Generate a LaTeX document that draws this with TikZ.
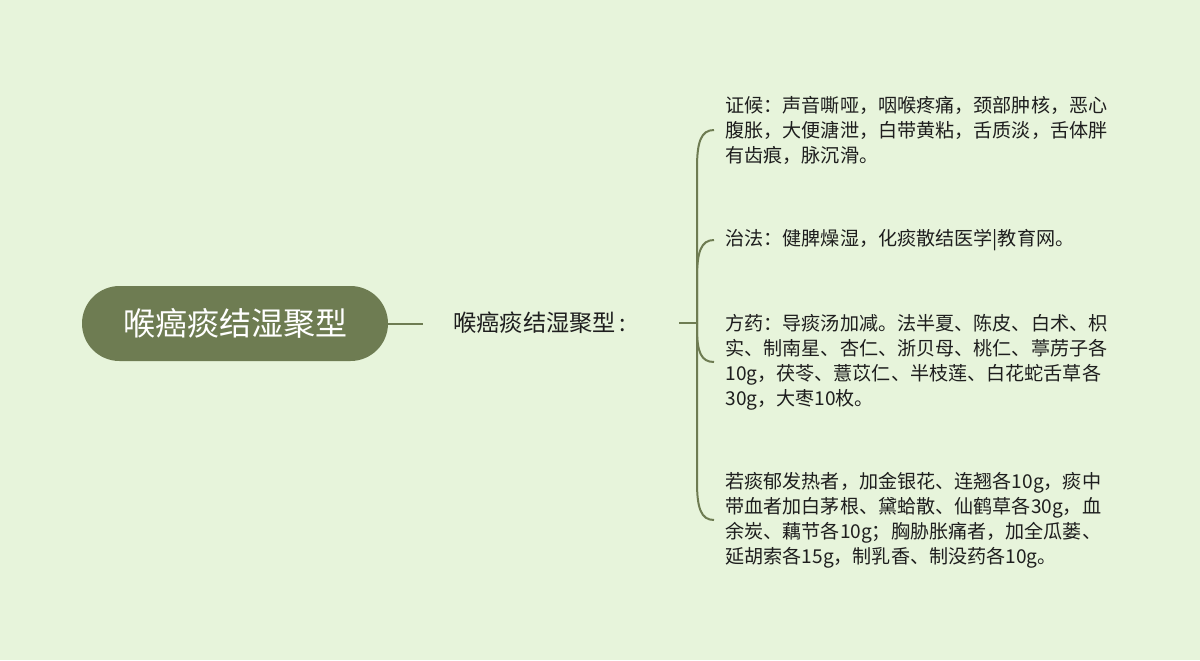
\documentclass[tikz,border=0pt]{standalone}
\usepackage{fontspec}
\setmainfont{Noto Sans CJK SC}
\definecolor{bg}{HTML}{E7F4DB}
\definecolor{olive}{HTML}{6E7C52}
\definecolor{txt}{HTML}{1E1E1E}
\tikzset{
  rootbox/.style={fill=olive, rounded corners=18.75pt, minimum width=153pt, minimum height=37.5pt, text=white, font=\fontsize{16pt}{19pt}\selectfont, inner sep=0pt},
  midbox/.style={anchor=west, inner sep=0pt, text=txt, font=\fontsize{11.6pt}{14pt}\selectfont},
  itembox/.style={anchor=west, inner xsep=5.5pt, inner ysep=0pt, align=left, text=txt, font=\fontsize{9.55pt}{12.5pt}\selectfont},
  link/.style={draw=olive, line width=1pt}
}
\begin{document}
\begin{tikzpicture}[x=0.5pt, y=-0.5pt]
\fill[bg] (0,0) rectangle (1200,660);
\useasboundingbox (0,0) rectangle (1200,660);

\node[rootbox] (root) at (235,323.5) {喉癌痰结湿聚型};
\node[midbox] (mid) at (453,323) {喉癌痰结湿聚型\,:};
\coordinate (rootend) at (423,323.5);
\draw[link] (root.east) -- (rootend);

\coordinate (s) at (679,323);
\coordinate (j) at (697,323);
\draw[link] (s) -- (j);

\node[itembox] (i1) at (714,130) {证候：声音嘶哑，咽喉疼痛，颈部肿核，恶心\\腹胀，大便溏泄，白带黄粘，舌质淡，舌体胖\\有齿痕，脉沉滑。};
\node[itembox] (i2) at (714,240) {治法：健脾燥湿，化痰散结医学|教育网。};
\node[itembox] (i3) at (714,362) {方药：导痰汤加减。法半夏、陈皮、白术、枳\\实、制南星、杏仁、浙贝母、桃仁、葶苈子各\\10g，茯苓、薏苡仁、半枝莲、白花蛇舌草各\\30g，大枣10枚。};
\node[itembox] (i4) at (714,520) {若痰郁发热者，加金银花、连翘各10g，痰中\\带血者加白茅根、黛蛤散、仙鹤草各30g，血\\余炭、藕节各10g；胸胁胀痛者，加全瓜蒌、\\延胡索各15g，制乳香、制没药各10g。};

\draw[link] (j) -- (697,168) .. controls (697,142) and (701,130) .. (i1.west);
\draw[link] (j) -- (697,278) .. controls (697,252) and (701,240) .. (i2.west);
\draw[link] (j) -- (697,328) .. controls (697,352) and (701,362) .. (i3.west);
\draw[link] (j) -- (697,482) .. controls (697,508) and (701,520) .. (i4.west);
\end{tikzpicture}
\end{document}
